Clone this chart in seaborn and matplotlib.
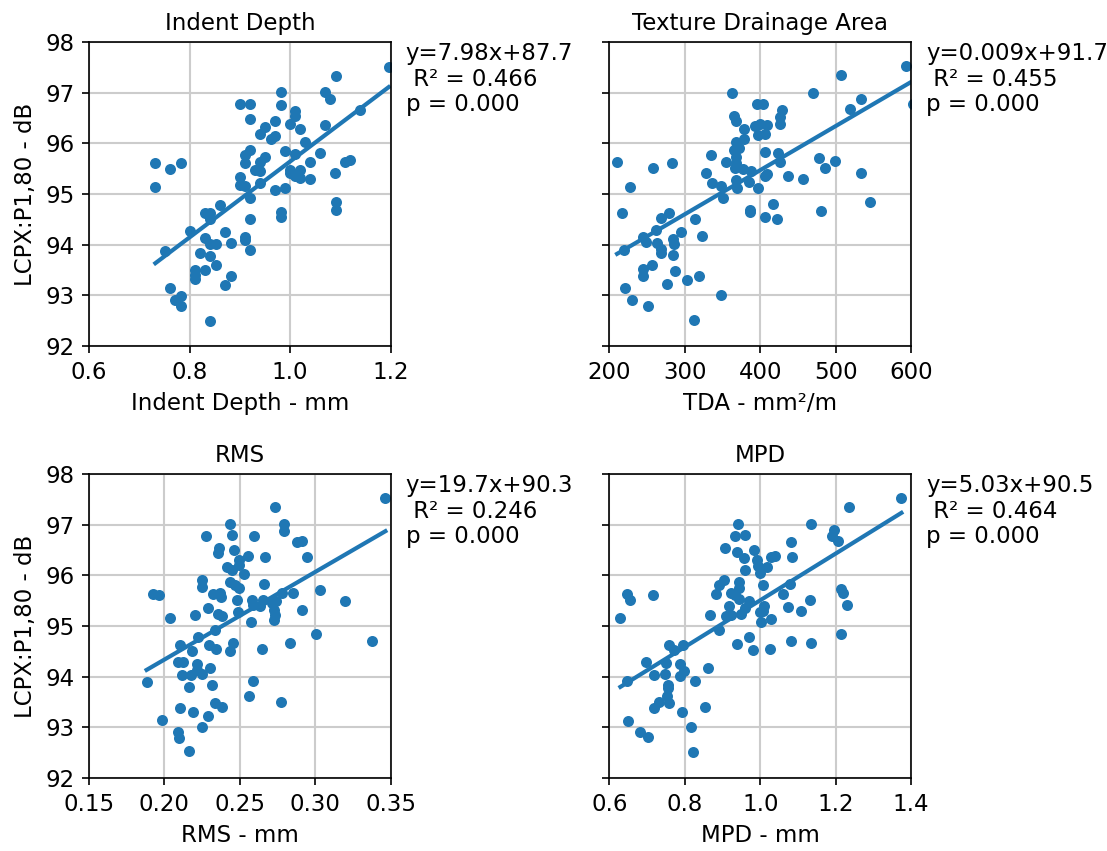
import numpy as np
import pandas as pd
import seaborn as sns
import matplotlib.pyplot as plt

# values
indent_depth = [1.196, 1.091, 0.981, 1.069, 1.080, 0.901, 0.921, 0.981, 1.010, 1.138,
                1.010, 0.921, 0.970, 1.000, 1.020, 1.069, 0.951, 0.941, 0.970, 0.961,
                1.030, 0.921, 0.990, 1.010, 1.059, 0.911, 0.911, 0.951, 0.941, 0.931,
                0.941, 1.039, 1.109, 1.120, 1.089, 1.000, 1.020, 1.000, 1.010, 1.020,
                1.039, 0.901, 0.901, 0.911, 0.941, 0.732, 0.762, 0.782, 0.732, 0.970,
                0.990, 0.921, 1.091, 1.091, 0.981, 0.981, 0.861, 0.831, 0.841, 0.841,
                0.921, 0.801, 0.870, 0.831, 0.911, 0.911, 0.841, 0.852, 0.882, 0.752,
                0.921, 0.821, 0.841, 0.852, 0.811, 0.811, 0.811, 0.831, 0.882, 0.870,
                0.762, 0.782, 0.772, 0.782, 0.841]
lcpx_id = [97.51, 97.33, 97.01, 97.01, 96.87, 96.78, 96.77, 96.76, 96.64, 96.66,
           96.53, 96.47, 96.43, 96.38, 96.28, 96.36, 96.33, 96.18, 96.15, 96.08,
           96.03, 95.87, 95.85, 95.78, 95.80, 95.77, 95.61, 95.72, 95.64, 95.47,
           95.46, 95.64, 95.64, 95.67, 95.41, 95.47, 95.47, 95.41, 95.35, 95.32,
           95.30, 95.34, 95.18, 95.16, 95.22, 95.61, 95.49, 95.62, 95.13, 95.08,
           95.11, 94.92, 94.85, 94.68, 94.65, 94.55, 94.78, 94.62, 94.62, 94.50,
           94.50, 94.26, 94.24, 94.14, 94.16, 94.09, 94.01, 94.01, 94.04, 93.88,
           93.90, 93.83, 93.78, 93.59, 93.49, 93.40, 93.32, 93.50, 93.38, 93.20,
           93.14, 92.99, 92.91, 92.79, 92.50]

tda = [592.7, 507.7, 362.4, 470.0, 534.2, 518.7, 396.0, 403.6, 365.0, 368.0,
       428.8, 425.8, 425.8, 378.4, 392.6, 399.2, 409.4, 397.0, 405.8, 368.2,
       378.4, 365.0, 371.3, 335.0, 405.8, 423.5, 210.2, 257.5, 282.7, 368.2,
       368.2, 354.9, 425.8, 477.6, 486.5, 499.7, 534.2, 328.4, 366.0, 377.0,
       388.2, 405.8, 409.4, 436.8, 456.7, 227.9, 335.9, 348.3, 368.2, 369.6,
       384.6, 397.0, 350.5, 216.8, 386.0, 386.0, 417.0, 406.8, 422.7, 480.2,
       545.3, 268.6, 279.7, 313.8, 262.0, 294.3, 244.3, 248.7, 284.0, 286.3,
       323.1, 219.0, 263.3, 268.6, 268.6, 284.0, 256.2, 244.3, 244.3, 287.2,
       303.2, 318.6, 220.8, 276.6, 348.3, 230.1, 250.9, 311.6, 602.0]
lcpx_tda = [97.52, 97.34, 97.00, 97.00, 96.88, 96.67, 96.78, 96.78, 96.54, 96.44,
            96.65, 96.51, 96.39, 96.29, 96.34, 96.39, 96.37, 96.16, 96.19, 96.03,
            96.09, 95.86, 95.90, 95.77, 95.82, 95.80, 95.63, 95.51, 95.62, 95.72,
            95.62, 95.64, 95.64, 95.70, 95.51, 95.65, 95.42, 95.42, 95.51, 95.49,
            95.46, 95.35, 95.40, 95.35, 95.29, 95.14, 95.21, 95.16, 95.27, 95.12,
            95.24, 95.12, 94.93, 94.63, 94.68, 94.64, 94.80, 94.55, 94.51, 94.66,
            94.85, 94.53, 94.62, 94.50, 94.28, 94.25, 94.15, 94.05, 94.12, 94.02,
            94.17, 93.89, 94.03, 93.92, 93.84, 93.79, 93.60, 93.51, 93.38, 93.48,
            93.31, 93.39, 93.15, 93.22, 93.00, 92.91, 92.79, 92.51, 96.77]

rms = [0.3465, 0.2736, 0.2794, 0.2791, 0.2438, 0.2273, 0.2451, 0.2595, 0.2882, 0.2913,
       0.2942, 0.2361, 0.2352, 0.2460, 0.2493, 0.2493, 0.2555, 0.2666, 0.2418, 0.2445,
       0.2529, 0.2250, 0.2246, 0.2438, 0.2467, 0.2493, 0.2659, 0.1926, 0.1964, 0.2323,
       0.2368, 0.2374, 0.2478, 0.2581, 0.2588, 0.2632, 0.2654, 0.2710, 0.2743, 0.2727,
       0.2732, 0.2780, 0.2853, 0.3030, 0.3195, 0.2913, 0.2290, 0.2357, 0.2379, 0.2485,
       0.2202, 0.2036, 0.2571, 0.2727, 0.2334, 0.3008, 0.3376, 0.2831, 0.2650, 0.2220,
       0.2103, 0.2184, 0.2295, 0.2339, 0.2456, 0.2434, 0.2092, 0.2125, 0.2213, 0.2213,
       0.2301, 0.2118, 0.2175, 0.2246, 0.1882, 0.2588, 0.2162, 0.2317, 0.2560, 0.2103,
       0.2191, 0.2334, 0.2379, 0.2776, 0.2286, 0.1986, 0.2246, 0.2087, 0.2098, 0.2162]
lcpx_rms = [97.53, 97.34, 97.01, 96.88, 97.01, 96.78, 96.80, 96.77, 96.65, 96.67,
            96.37, 96.54, 96.44, 96.49, 96.31, 96.21, 96.39, 96.37, 96.16, 96.11,
            96.03, 95.91, 95.77, 95.86, 95.80, 95.74, 95.82, 95.64, 95.62, 95.64,
            95.66, 95.58, 95.51, 95.52, 95.42, 95.39, 95.52, 95.45, 95.49, 95.32,
            95.22, 95.65, 95.66, 95.70, 95.49, 95.31, 95.36, 95.24, 95.19, 95.27,
            95.22, 95.16, 95.08, 95.12, 94.93, 94.85, 94.70, 94.66, 94.55, 94.78,
            94.63, 94.51, 94.63, 94.54, 94.66, 94.51, 94.28, 94.28, 94.25, 94.14,
            94.17, 94.03, 94.03, 94.05, 93.90, 93.91, 93.80, 93.84, 93.61, 93.39,
            93.31, 93.48, 93.40, 93.50, 93.22, 93.15, 93.01, 92.91, 92.79, 92.53]

mpd = [1.3744, 1.2345, 1.1354, 0.9407, 1.1955, 1.1902, 1.2061, 0.9318, 0.9584, 0.9071,
       0.9390, 0.9566, 0.9831, 0.9920, 0.9937, 0.9982, 1.0186, 1.0292, 1.0398, 1.0823,
       1.0840, 0.9602, 0.9035, 0.8920, 0.8832, 0.9425, 0.9425, 1.0070, 1.0778, 0.9212,
       0.9318, 0.6470, 0.6557, 0.7150, 1.0600, 1.2132, 1.2194, 1.1310, 1.2310, 0.9425,
       0.9690, 0.9159, 1.0096, 1.0070, 1.0733, 1.1070, 0.9602, 0.6292, 0.8655, 0.9098,
       0.9212, 0.9478, 0.9982, 1.0292, 1.0027, 0.8894, 1.2132, 1.0823, 1.1354, 0.9390,
       0.9690, 0.9805, 1.0248, 0.7593, 0.7726, 0.7947, 0.6973, 0.7505, 0.7885, 0.7973,
       0.8628, 0.7195, 0.7478, 0.7885, 0.6470, 0.8275, 0.7566, 0.7566, 0.7531, 0.7327,
       0.7593, 0.7177, 0.8540, 0.7920, 0.6504, 0.8168, 0.6823, 0.7017, 0.8212]
lcpx_mpd = [97.53, 97.34, 97.01, 97.01, 96.89, 96.77, 96.67, 96.78, 96.80, 96.53,
            96.45, 96.34, 96.49, 96.31, 96.19, 96.05, 96.16, 96.37, 96.39, 96.65,
            96.36, 96.11, 95.90, 95.80, 95.64, 95.86, 95.75, 95.80, 95.82, 95.66,
            95.62, 95.64, 95.51, 95.62, 95.64, 95.72, 95.65, 95.51, 95.42, 95.53,
            95.49, 95.40, 95.39, 95.29, 95.38, 95.29, 95.36, 95.16, 95.22, 95.19,
            95.22, 95.24, 95.27, 95.14, 95.08, 94.93, 94.85, 94.70, 94.66, 94.64,
            94.78, 94.52, 94.55, 94.63, 94.53, 94.62, 94.28, 94.27, 94.25, 94.12,
            94.17, 94.03, 94.05, 94.02, 93.91, 93.91, 93.84, 93.78, 93.61, 93.50,
            93.48, 93.39, 93.40, 93.31, 93.13, 93.00, 92.91, 92.80, 92.51]

titles = ['Indent Depth', 'Texture Drainage Area', 'RMS', 'MPD']
xlabels = ['Indent Depth - mm', 'TDA - mm²/m', 'RMS - mm', 'MPD - mm']
fit_text = ['y=7.98x+87.7\n R² = 0.466\np = 0.000',
            'y=0.009x+91.7\n R² = 0.455\np = 0.000',
            'y=19.7x+90.3\n R² = 0.246\np = 0.000',
            'y=5.03x+90.5\n R² = 0.464\np = 0.000']
xlims = [(0.6, 1.2), (200, 600), (0.15, 0.35), (0.6, 1.4)]
xticks = [[0.6, 0.8, 1.0, 1.2], [200, 300, 400, 500, 600],
          [0.15, 0.20, 0.25, 0.30, 0.35], [0.6, 0.8, 1.0, 1.2, 1.4]]
yticks = [92, 93, 94, 95, 96, 97, 98]

xs = [indent_depth, tda, rms, mpd]
ys = [lcpx_id, lcpx_tda, lcpx_rms, lcpx_mpd]

plt.rcParams['font.size'] = 11

fig, axes = plt.subplots(2, 2, figsize=(7.38, 5.674), dpi=150, sharey=True)
plt.subplots_adjust(left=0.0804, right=0.823, top=0.9506, bottom=0.0858,
                    wspace=0.725, hspace=0.421)

for i, ax in enumerate(axes.flat):
    sns.regplot(x=np.array(xs[i]), y=np.array(ys[i]), ax=ax, ci=None,
                color='#1f77b4',
                scatter_kws={'s': 28, 'alpha': 1, 'linewidths': 0},
                line_kws={'linewidth': 2})
    ax.set_xlim(xlims[i])
    ax.set_xticks(xticks[i])
    ax.set_ylim(92, 98)
    ax.set_yticks(yticks)
    ax.grid(True, color='#cccccc', linewidth=1)
    ax.set_axisbelow(True)
    ax.set_title(titles[i], fontsize=11)
    ax.set_xlabel(xlabels[i], fontsize=11)
    ax.set_ylabel('LCPX:P1,80 - dB' if i % 2 == 0 else '', fontsize=11)
    ax.text(1.05, 1.0, fit_text[i], transform=ax.transAxes, va='top', ha='left',
            fontsize=11, linespacing=1.15)

plt.savefig('out.png', dpi=150)
